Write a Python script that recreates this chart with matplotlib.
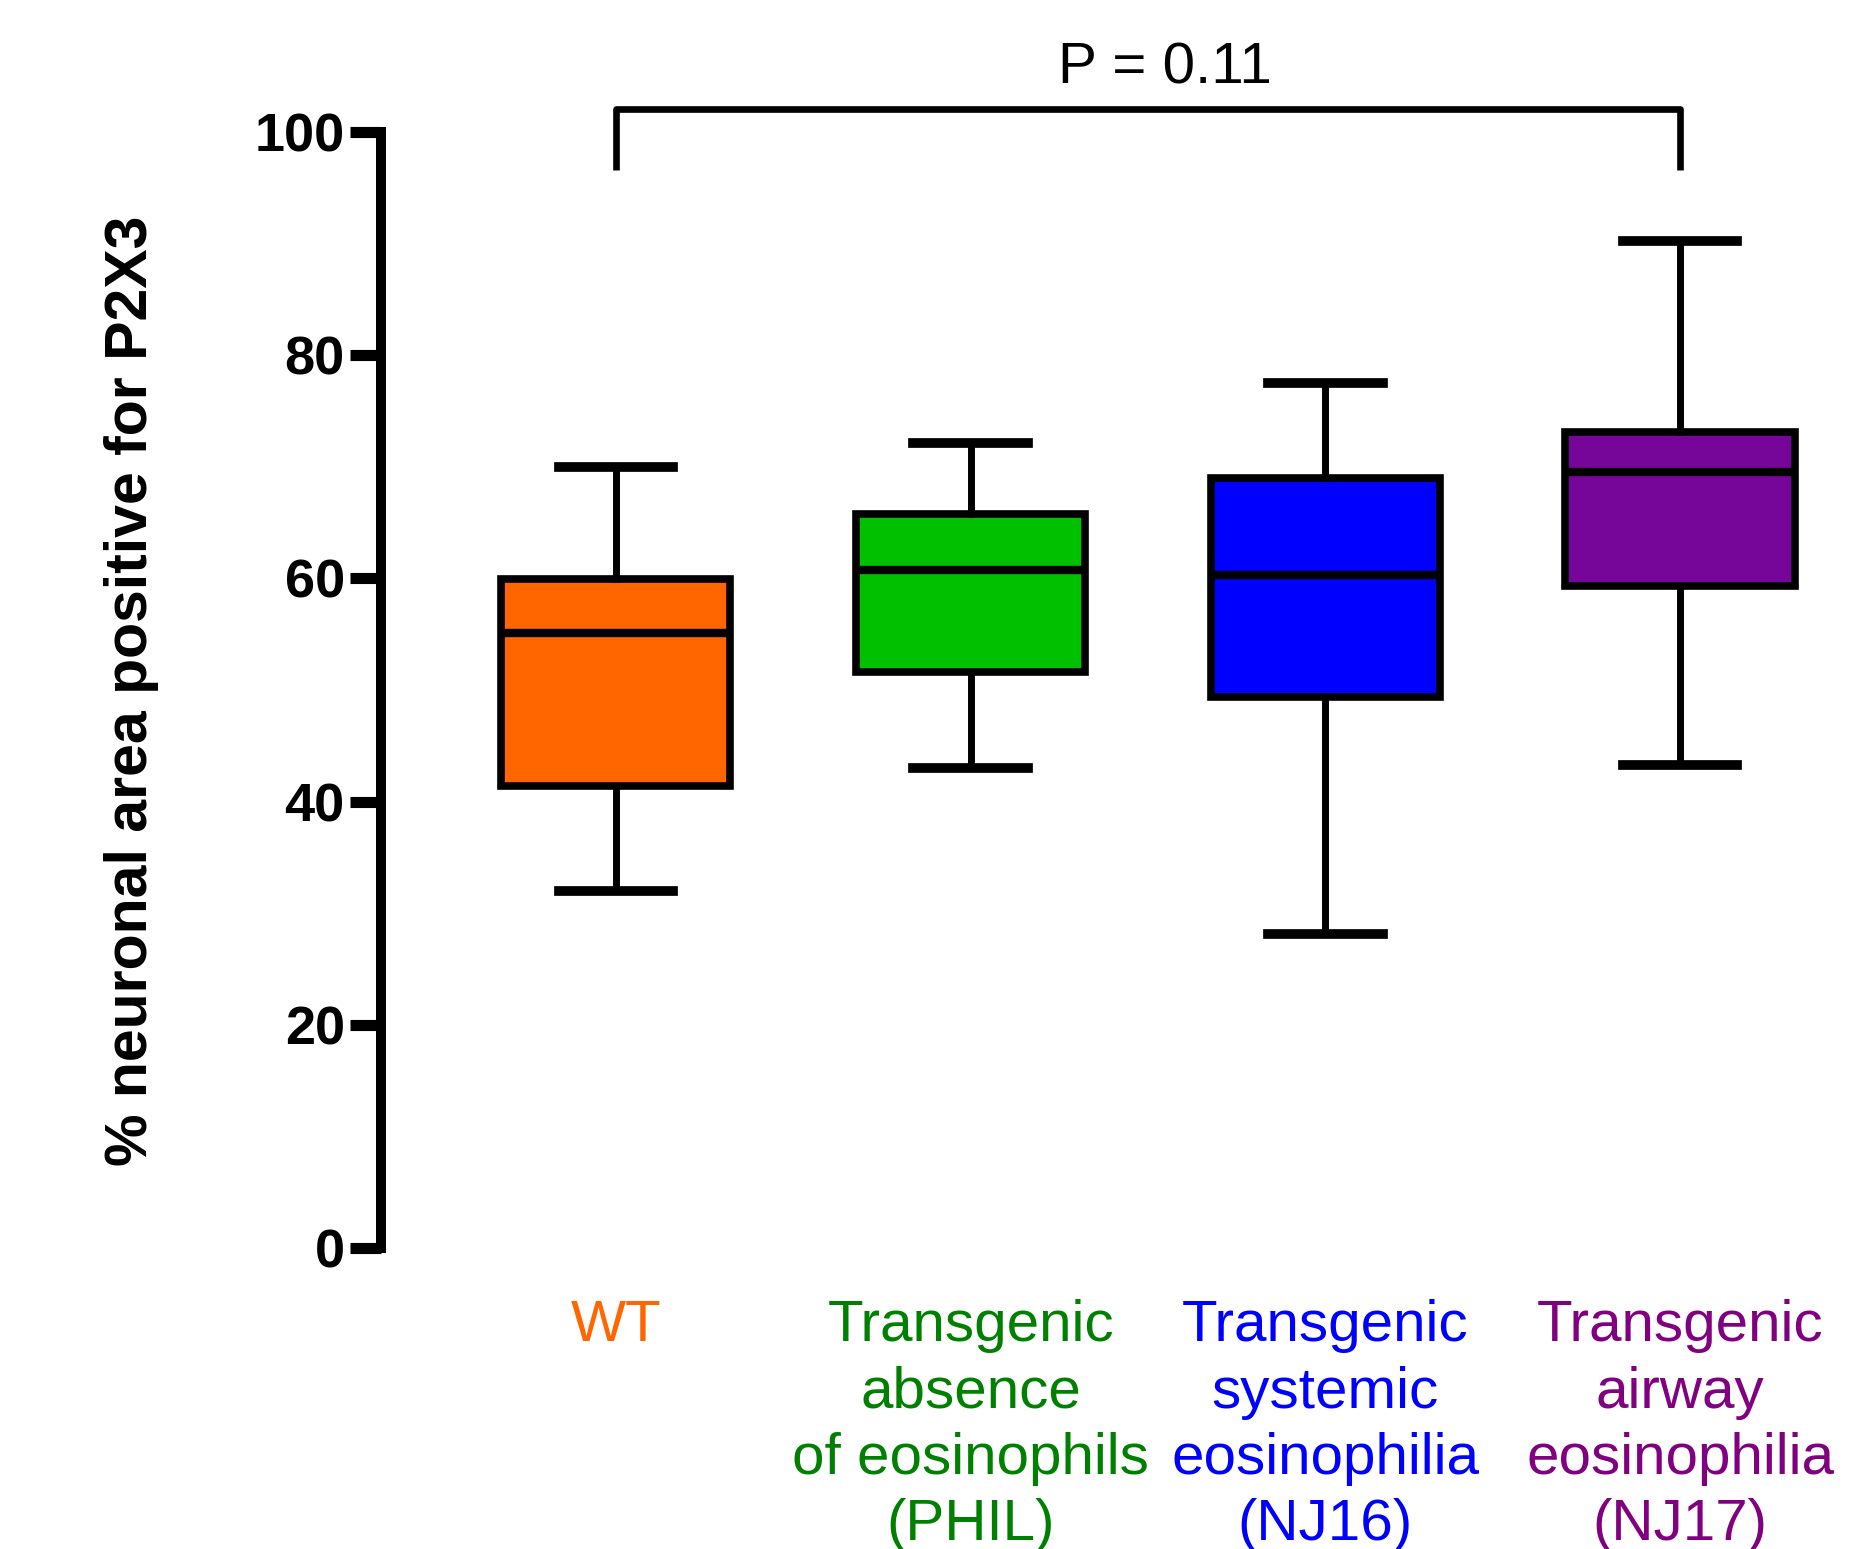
import matplotlib
matplotlib.use("Agg")
import matplotlib.pyplot as plt

# data (percent of neuronal area)
groups = ["WT",
          "Transgenic\nabsence\nof eosinophils\n(PHIL)",
          "Transgenic\nsystemic\neosinophilia\n(NJ16)",
          "Transgenic\nairway\neosinophilia\n(NJ17)"]
whisker_low = [32.0, 43.0, 28.1, 43.3]
q1 = [41.4, 51.6, 49.4, 59.3]
medians = [55.1, 60.7, 60.3, 69.5]
q3 = [59.9, 65.8, 69.0, 73.1]
whisker_high = [70.0, 72.1, 77.5, 90.2]

fill_colors = ["#FF6600", "#00C000", "#0000FF", "#76069A"]
text_colors = ["#FF6600", "#008000", "#0000FF", "#800080"]

p_text = "P = 0.11"
bracket_low = 96.6
bracket_high = 102.0

plt.rcParams["font.family"] = ["Liberation Sans", "DejaVu Sans"]

fig = plt.figure(figsize=(18.51, 15.49), dpi=100)
ax = fig.add_axes([0.2058, 0.1943, 0.7942, 0.7206])

stats = []
for i in range(len(groups)):
    stats.append({"whislo": whisker_low[i], "q1": q1[i], "med": medians[i],
                  "q3": q3[i], "whishi": whisker_high[i], "fliers": []})

positions = list(range(1, len(groups) + 1))
bp = ax.bxp(stats, positions=positions, widths=0.646, capwidths=0.323,
            patch_artist=True, showfliers=False,
            boxprops=dict(linewidth=5.5, edgecolor="black"),
            medianprops=dict(linewidth=6, color="black"),
            whiskerprops=dict(linewidth=5, color="black"),
            capprops=dict(linewidth=7, color="black"))
for patch, c in zip(bp["boxes"], fill_colors):
    patch.set_facecolor(c)

ax.set_xlim(0.3375, 4.482)
ax.set_ylim(0, 100)
ax.set_yticks([0, 20, 40, 60, 80, 100])
ax.tick_params(axis="y", width=8, length=22, pad=4, labelsize=39)
for lab in ax.get_yticklabels():
    lab.set_fontweight("bold")

ax.set_xticks(positions)
ax.set_xticklabels(groups, fontsize=42, linespacing=1.29)
ax.tick_params(axis="x", length=0, pad=37)
for lab, c in zip(ax.get_xticklabels(), text_colors):
    lab.set_color(c)

for side in ["top", "right", "bottom"]:
    ax.spines[side].set_visible(False)
ax.spines["left"].set_linewidth(7.2)

# y axis title, placed by hand like the reference
fig.text(147 / 1851, 0.5542, "% neuronal area positive for P2X3",
         rotation=90, rotation_mode="anchor", ha="center", va="baseline",
         fontsize=42.5, fontweight="bold")

# significance bracket
ax.plot([1, 1, 4, 4], [bracket_low, bracket_high, bracket_high, bracket_low],
        color="black", linewidth=4.8, clip_on=False, solid_capstyle="butt")
ax.text(2.548, 104.3, p_text, ha="center", va="baseline", fontsize=42,
        clip_on=False)

fig.savefig("out.png", dpi=100)
